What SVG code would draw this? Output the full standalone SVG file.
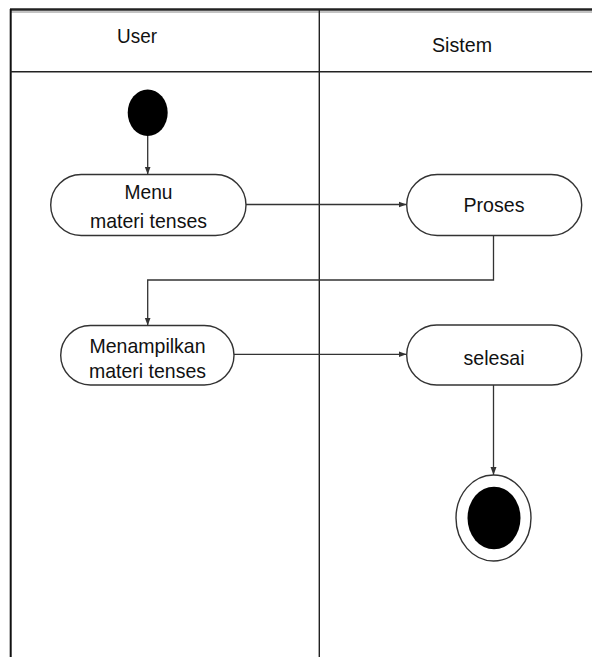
<svg xmlns="http://www.w3.org/2000/svg" width="592" height="657" viewBox="0 0 592 657">
<defs>
<style>
.lane{fill:none;stroke:#222;stroke-width:1.4}
.node{fill:#fff;stroke:#333;stroke-width:1.4}
.t{font-family:"Liberation Sans",Arial,sans-serif;font-size:21px;fill:#111;text-anchor:middle}
.c{fill:none;stroke:#333;stroke-width:1.3}
</style>
<marker id="ah" viewBox="0 0 8 8" refX="8" refY="4" markerWidth="8" markerHeight="8" markerUnits="userSpaceOnUse" orient="auto">
<path d="M0,1 L8,4 L0,7 Z" fill="#333"/>
</marker>
</defs>
<rect width="592" height="657" fill="#fff"/>
<g id="swimlanes">
<line x1="10" y1="9.5" x2="592" y2="9.5" stroke="#222" stroke-width="2.5"/>
<line x1="10" y1="12" x2="592" y2="12" stroke="#888" stroke-width="1"/>
<line x1="10.7" y1="9" x2="10.7" y2="657" stroke="#111" stroke-width="2"/>
<line x1="319.3" y1="9" x2="319.3" y2="657" class="lane"/>
<line x1="10" y1="71.7" x2="592" y2="71.7" class="lane"/>
<text class="t" x="137" y="43" textLength="40" lengthAdjust="spacingAndGlyphs">User</text>
<text class="t" x="462" y="51.5" textLength="60" lengthAdjust="spacingAndGlyphs">Sistem</text>
</g>
<g id="connectors">
<line class="c" x1="147.7" y1="136" x2="147.7" y2="174.5" marker-end="url(#ah)"/>
<line class="c" x1="246" y1="204.5" x2="406.5" y2="204.5" marker-end="url(#ah)"/>
<polyline class="c" points="493.5,234.7 493.5,280 147.7,280 147.7,325.5" marker-end="url(#ah)"/>
<line class="c" x1="234" y1="354.3" x2="406.5" y2="354.3" marker-end="url(#ah)"/>
<line class="c" x1="493.5" y1="385" x2="493.5" y2="475" marker-end="url(#ah)"/>
</g>
<g id="start">
<ellipse cx="147.7" cy="112.7" rx="20" ry="23.3" fill="#000"/>
</g>
<g id="menu">
<rect class="node" x="50.7" y="174.5" width="195.3" height="61" rx="30.5" ry="30.5"/>
<text class="t" x="148.5" y="199" textLength="48" lengthAdjust="spacingAndGlyphs">Menu</text>
<text class="t" x="148.5" y="228" textLength="117" lengthAdjust="spacingAndGlyphs">materi tenses</text>
</g>
<g id="proses">
<rect class="node" x="406.7" y="174.5" width="175" height="61" rx="30.5" ry="30.5"/>
<text class="t" x="494" y="212" textLength="61" lengthAdjust="spacingAndGlyphs">Proses</text>
</g>
<g id="menampilkan">
<rect class="node" x="60.7" y="325.5" width="173.3" height="59.5" rx="29.7" ry="29.7"/>
<text class="t" x="147.5" y="353" textLength="116" lengthAdjust="spacingAndGlyphs">Menampilkan</text>
<text class="t" x="147.5" y="378" textLength="117" lengthAdjust="spacingAndGlyphs">materi tenses</text>
</g>
<g id="selesai">
<rect class="node" x="406.7" y="325" width="175" height="60" rx="30" ry="30"/>
<text class="t" x="494" y="365" textLength="61" lengthAdjust="spacingAndGlyphs">selesai</text>
</g>
<g id="end">
<ellipse cx="493.5" cy="518" rx="37.5" ry="43" fill="#fff" stroke="#333" stroke-width="1.4"/>
<ellipse cx="494" cy="518" rx="26.5" ry="31.3" fill="#000"/>
</g>
</svg>
